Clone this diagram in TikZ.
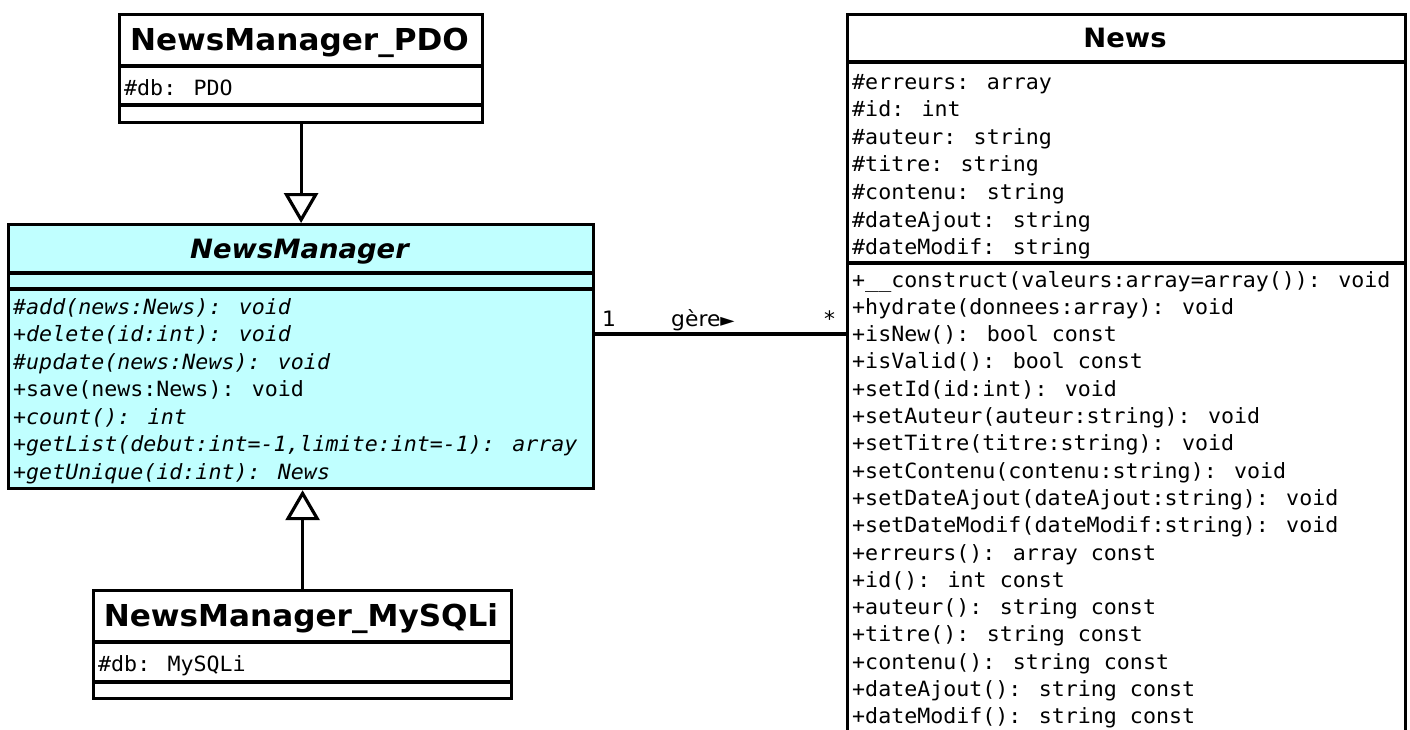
\documentclass[tikz,border=0pt]{standalone}
\usepackage{fontspec}
\usetikzlibrary{arrows.meta,calc}
\newfontfamily\monof[FakeStretch=1.03]{DejaVu Sans Mono}
\newfontfamily\sansf[FakeStretch=1.03]{DejaVu Sans}
\definecolor{abscyan}{RGB}{192,255,255}
\begin{document}
\begin{tikzpicture}[x=1pt,y=-1pt,
  box/.style={draw, line width=3.2pt, inner sep=0pt, anchor=north west},
  sepline/.style={line width=3.2pt},
  mono/.style={font=\monof\fontsize{21}{25}\selectfont, inner sep=0pt, anchor=base west},
  monoit/.style={font=\monof\itshape\fontsize{21}{25}\selectfont, inner sep=0pt, anchor=base west},
  subtitle/.style={font=\sansf\bfseries\fontsize{30.2}{34}\selectfont, inner sep=0pt, anchor=base},
  maintitle/.style={font=\sansf\bfseries\fontsize{26.6}{30}\selectfont, inner sep=0pt, anchor=base},
  abstitle/.style={font=\sansf\bfseries\itshape\fontsize{26.6}{30}\selectfont, inner sep=0pt, anchor=base},
  lbl/.style={font=\sansf\fontsize{21.2}{25}\selectfont, inner sep=0pt, anchor=base west},
  gen/.style={line width=3.2pt, -{Triangle[open, width=34pt, length=30pt, line width=3.2pt]}},
  assoc/.style={line width=3.2pt}
]
\useasboundingbox (0,0) rectangle (1410,729);
\clip (0,0) rectangle (1410,729);

% NewsManager_PDO
\node[box, minimum width=363pt, minimum height=108pt] (pdo) at (118,13) {};
\draw[sepline] (pdo.west |- 0,66) -- (pdo.east |- 0,66);
\draw[sepline] (pdo.west |- 0,105) -- (pdo.east |- 0,105);
\node[subtitle] (pdot) at (299.5,50) {NewsManager\_PDO};
\node[mono] (pdoa) at (124,95) {\#db: PDO};

% NewsManager (abstract)
\node[box, fill=abscyan, minimum width=585pt, minimum height=264pt] (nm) at (7,223) {};
\draw[sepline] (nm.west |- 0,273) -- (nm.east |- 0,273);
\draw[sepline] (nm.west |- 0,289) -- (nm.east |- 0,289);
\node[abstitle] (nmt) at (299.5,258) {NewsManager};
\node[monoit] (nm1) at (13,314) {\#add(news:News): void};
\node[monoit] (nm2) at (13,341.5) {+delete(id:int): void};
\node[monoit] (nm3) at (13,369) {\#update(news:News): void};
\node[mono]   (nm4) at (13,396.5) {+save(news:News): void};
\node[monoit] (nm5) at (13,424) {+count(): int};
\node[monoit] (nm6) at (13,451.5) {+getList(debut:int=-1,limite:int=-1): array};
\node[monoit] (nm7) at (13,479) {+getUnique(id:int): News};

% NewsManager_MySQLi
\node[box, minimum width=418pt, minimum height=108pt] (my) at (92,589) {};
\draw[sepline] (my.west |- 0,642) -- (my.east |- 0,642);
\draw[sepline] (my.west |- 0,682) -- (my.east |- 0,682);
\node[subtitle] (myt) at (301,626) {NewsManager\_MySQLi};
\node[mono] (mya) at (98,671) {\#db: MySQLi};

% News
\node[box, minimum width=558pt, minimum height=760pt] (news) at (846,13) {};
\draw[sepline] (news.west |- 0,62) -- (news.east |- 0,62);
\draw[sepline] (news.west |- 0,263) -- (news.east |- 0,263);
\node[maintitle] (newst) at (1125,47) {News};
\foreach \t [count=\i from 0] in {%
  \#erreurs: array, \#id: int, \#auteur: string, \#titre: string,
  \#contenu: string, \#dateAjout: string, \#dateModif: string}{
  \node[mono] (na\i) at (852,89+27.6*\i) {\t};
}
\foreach \t [count=\i from 0] in {%
  +\_\_construct(valeurs:array=array()): void,
  +hydrate(donnees:array): void,
  +isNew(): bool const,
  +isValid(): bool const,
  +setId(id:int): void,
  +setAuteur(auteur:string): void,
  +setTitre(titre:string): void,
  +setContenu(contenu:string): void,
  +setDateAjout(dateAjout:string): void,
  +setDateModif(dateModif:string): void,
  +erreurs(): array const,
  +id(): int const,
  +auteur(): string const,
  +titre(): string const,
  +contenu(): string const,
  +dateAjout(): string const,
  +dateModif(): string const}{
  \node[mono] (nmeth\i) at (852,287+27.3*\i) {\t};
}

% generalizations
\draw[gen] (pdo.south) -- (pdo.south |- nm.north);
\draw[gen] (my.north) -- (my.north |- nm.south);

% association
\draw[assoc] (nm.east |- 0,334) -- (news.west |- 0,334);
\node[lbl] (m1) at (602,326) {1};
\node[lbl] (role) at (671,326) {gère{\fontsize{18}{20}\selectfont►}};
\node[lbl] (m2) at (824,326) {*};
\end{tikzpicture}
\end{document}
